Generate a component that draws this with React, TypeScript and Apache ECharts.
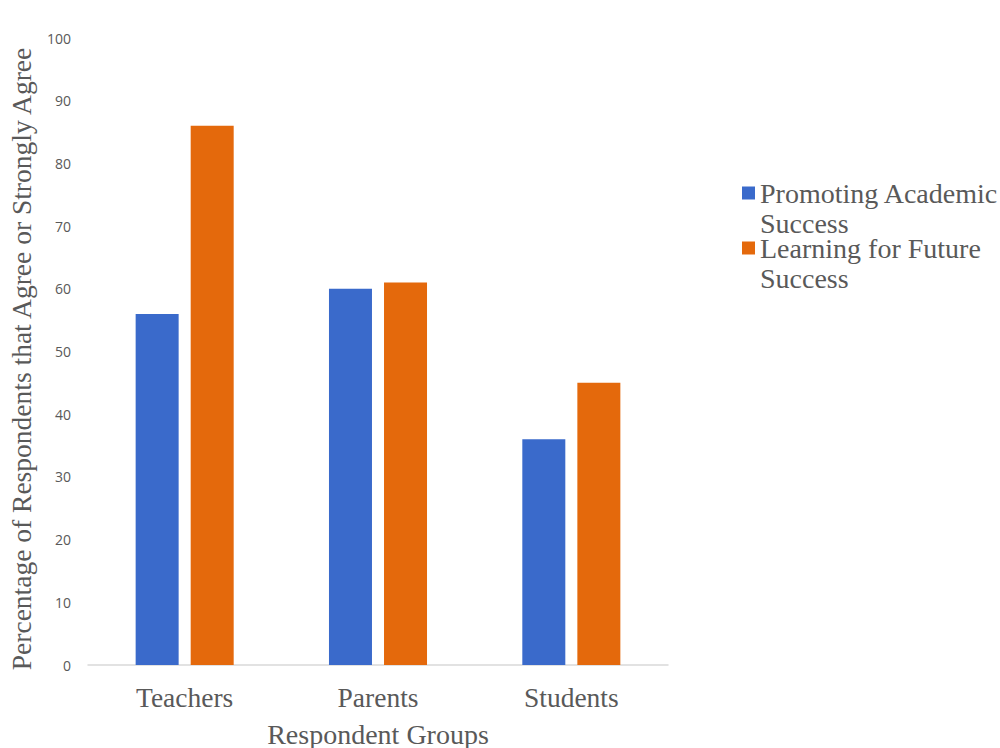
import React, { useEffect, useRef } from "react";
import * as echarts from "echarts";

const categories = ["Teachers", "Parents", "Students"];
const seriesNames = ["Promoting Academic Success", "Learning for Future Success"];
const promotingAcademic = [56, 60, 36];
const learningFuture = [86, 61, 45];
const legendLabels: Record<string, string> = {
  "Promoting Academic Success": "\nPromoting Academic\nSuccess",
  "Learning for Future Success": "\nLearning for Future\nSuccess",
};

const SERIF = "'Liberation Serif', 'Times New Roman', serif";
const SANS = "'Open Sans', 'Liberation Sans', sans-serif";
const TEXT = "#595959";

export default function App() {
  const ref = useRef<HTMLDivElement>(null);
  useEffect(() => {
    if (!ref.current) return;
    const chart = echarts.init(ref.current, undefined, { renderer: "svg" });
    chart.setOption({
      animation: false,
      backgroundColor: "#ffffff",
      grid: {
        left: 88,
        right: 332,
        top: 38,
        bottom: 83,
        containLabel: false,
        outerBoundsMode: "none",
      },
      legend: {
        orient: "vertical",
        left: 737,
        top: 143,
        icon: "rect",
        itemWidth: 13,
        itemHeight: 13,
        itemGap: -35,
        data: seriesNames,
        formatter: (n: string) => legendLabels[n] || n,
        textStyle: {
          fontFamily: SERIF,
          fontSize: 28,
          lineHeight: 30,
          color: TEXT,
        },
      },
      xAxis: {
        type: "category",
        data: categories,
        name: "Respondent Groups",
        nameLocation: "middle",
        nameGap: 55,
        nameTextStyle: { fontFamily: SERIF, fontSize: 28, color: TEXT },
        axisLine: { lineStyle: { color: "#D9D9D9", width: 1.5 } },
        axisTick: { show: false },
        axisLabel: { fontFamily: SERIF, fontSize: 27.5, color: TEXT, margin: 18 },
      },
      yAxis: {
        type: "value",
        min: 0,
        max: 100,
        interval: 10,
        name: "Percentage of Respondents that Agree or Strongly Agree",
        nameLocation: "middle",
        nameGap: 53,
        nameTextStyle: {
          fontFamily: SERIF,
          fontSize: 27.5,
          color: TEXT,
          padding: [0, 15, 0, 0],
        },
        axisLine: { show: false },
        axisTick: { show: false },
        splitLine: { show: false },
        axisLabel: { fontFamily: SANS, fontSize: 14, color: TEXT, margin: 17 },
      },
      series: [
        {
          name: seriesNames[0],
          type: "bar",
          data: promotingAcademic,
          barWidth: 43,
          barGap: "28%",
          itemStyle: { color: "#3A6ACB" },
        },
        {
          name: seriesNames[1],
          type: "bar",
          data: learningFuture,
          barWidth: 43,
          barGap: "28%",
          itemStyle: { color: "#E4690C" },
        },
      ],
    });
    return () => chart.dispose();
  }, []);
  return (
    <div
      ref={ref}
      style={{ position: "fixed", left: 0, top: 0, width: 1000, height: 748 }}
    />
  );
}
